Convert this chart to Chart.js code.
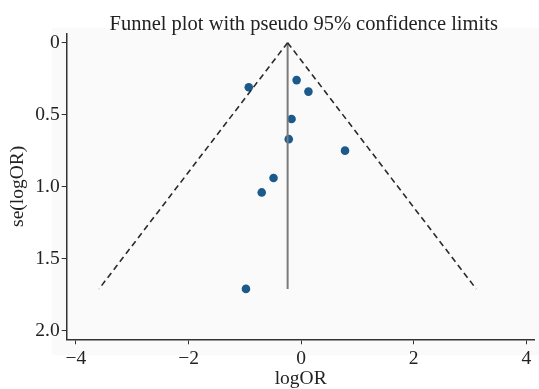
<!DOCTYPE html>
<html>
<head>
<meta charset="utf-8">
<script src="https://cdn.jsdelivr.net/npm/chart.js@4.4.1/dist/chart.umd.min.js"></script>
<style>
  html, body { margin: 0; padding: 0; background: #fff; }
  .canvas { width: 539px; height: 389px; }
</style>
</head>
<body>
<div class="canvas">
  <canvas id="funnelChart" width="539" height="389"></canvas>
</div>
<script>
// studies
const studyLogOR = [-0.93, -0.08, 0.13, -0.17, -0.22, 0.78, -0.49, -0.70, -0.98];
const studySE = [0.31, 0.26, 0.34, 0.53, 0.67, 0.75, 0.94, 1.04, 1.71];

// pooled estimate line and pseudo 95% limits (apex -> bottom)
const pooledX = [-0.24, -0.24];
const limitSE = [0, 1.71];
const lowerLimitX = [-0.24, -3.59];
const upperLimitX = [-0.24, 3.11];

const xTicks = [-4, -2, 0, 2, 4];
const yTicks = [0, 0.5, 1, 1.5, 2];

const serif = "'Liberation Serif', 'DejaVu Serif', serif";
const ink = '#222';

const toPoints = (xs, ys) => xs.map((x, i) => ({x: x, y: ys[i]}));

// light grey plot region + title, stata style
const backdrop = {
  id: 'backdrop',
  beforeDraw(chart) {
    const {ctx, chartArea: a} = chart;
    ctx.save();
    ctx.fillStyle = '#fafafa';
    ctx.fillRect(a.left - 15, a.top - 5, chart.width - (a.left - 15), a.bottom - a.top + 21);
    ctx.restore();
  },
  afterDraw(chart) {
    const {ctx, chartArea: a} = chart;
    ctx.save();
    ctx.fillStyle = ink;
    ctx.font = "20.5px " + serif;
    ctx.textAlign = 'center';
    ctx.textBaseline = 'alphabetic';
    ctx.fillText('Funnel plot with pseudo 95% confidence limits', (a.left + a.right) / 2 + 3, 30);
    ctx.restore();
  }
};

const ctx = document.getElementById('funnelChart');

new Chart(ctx, {
  type: 'scatter',
  data: {
    datasets: [
      {
        label: 'lower limit',
        type: 'line',
        data: toPoints(lowerLimitX, limitSE),
        borderColor: '#2a2a2a',
        borderWidth: 1.6,
        borderDash: [6, 4],
        pointRadius: 0,
        fill: false
      },
      {
        label: 'upper limit',
        type: 'line',
        data: toPoints(upperLimitX, limitSE),
        borderColor: '#2a2a2a',
        borderWidth: 1.6,
        borderDash: [6, 4],
        pointRadius: 0,
        fill: false
      },
      {
        label: 'pooled',
        type: 'line',
        data: toPoints(pooledX, limitSE),
        borderColor: '#7a7a7a',
        borderWidth: 2,
        pointRadius: 0,
        fill: false
      },
      {
        label: 'studies',
        data: toPoints(studyLogOR, studySE),
        backgroundColor: '#1d5a8c',
        borderWidth: 0,
        pointRadius: 4.3
      }
    ]
  },
  options: {
    responsive: false,
    animation: false,
    layout: { padding: { top: 33.3, right: 1, bottom: 0, left: 0 } },
    plugins: {
      legend: { display: false },
      tooltip: { enabled: false },
      title: { display: false }
    },
    scales: {
      x: {
        type: 'linear',
        min: -4.165,
        max: 4.15,
        afterBuildTicks: s => { s.ticks = xTicks.map(v => ({value: v})); },
        afterFit: s => { s.height = 49.7; },
        ticks: {
          color: ink,
          padding: 2.5,
          font: { family: serif, size: 19.5 },
          callback: v => (v < 0 ? '\u2212' + Math.abs(v) : String(v))
        },
        grid: { drawOnChartArea: false, drawTicks: true, tickLength: 5, color: '#333', lineWidth: 1 },
        border: { display: true, color: '#333', width: 1.5 },
        title: {
          display: true,
          text: 'logOR',
          color: ink,
          font: { family: serif, size: 19.5, lineHeight: 1 },
          padding: 0
        }
      },
      y: {
        type: 'linear',
        reverse: true,
        min: -0.065,
        max: 2.06,
        afterBuildTicks: s => { s.ticks = yTicks.map(v => ({value: v})); },
        afterFit: s => { s.width = 66.7; },
        ticks: {
          color: ink,
          padding: 2,
          font: { family: serif, size: 19.5 },
          callback: v => (v === 0 ? '0' : v.toFixed(1))
        },
        grid: { drawOnChartArea: false, drawTicks: true, tickLength: 5, color: '#333', lineWidth: 1 },
        border: { display: true, color: '#333', width: 1.5 },
        title: {
          display: true,
          text: 'se(logOR)',
          color: ink,
          font: { family: serif, size: 19.5, lineHeight: 1.2 },
          padding: { top: 6, bottom: 0 }
        }
      }
    }
  },
  plugins: [backdrop]
});
</script>
</body>
</html>
